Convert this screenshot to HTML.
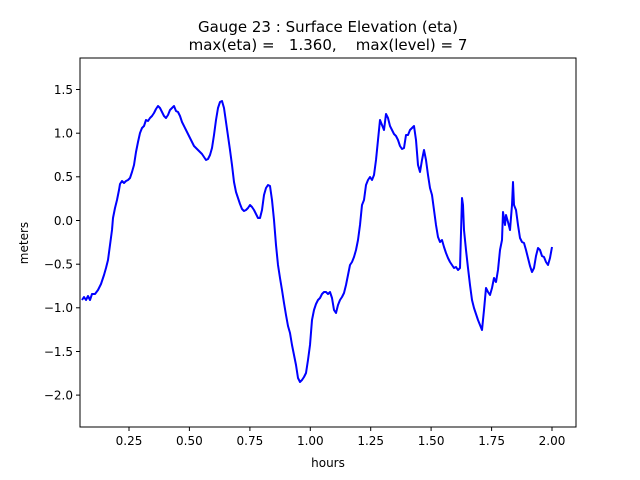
<!DOCTYPE html>
<html><head><style>body{margin:0;background:#fff}svg{display:block}text{font-family:"DejaVu Sans","Liberation Sans",sans-serif;fill:#000}</style></head><body>
<svg width="640" height="480" xmlns="http://www.w3.org/2000/svg">
<rect width="640" height="480" fill="#fff"/>
<text x="328" y="32" font-size="15" text-anchor="middle">Gauge 23 : Surface Elevation (eta)</text>
<text x="328" y="50" font-size="15" text-anchor="middle" xml:space="preserve">max(eta) =   1.360,    max(level) = 7</text>
<polyline fill="none" stroke="#0000ff" stroke-width="2" stroke-linejoin="round" points="82,300 84,297 86,300 88,296 90,300 92,294 95,294 98,290 101,284 104,275 106,268 108,260 110,245 112,230 113,218 115,208 117,200 119,190 120,184 122,181 124,183 126,181 128,180 130,178 132,172 134,165 136,152 138,142 140,133 142,128 144,126 146,120 148,121 150,118 152,116 154,113 156,109 158,106 160,108 162,112 164,116 166,118 168,115 170,110 172,108 174,106 176,111 178,112 180,116 182,122 186,130 190,138 194,146 198,150 202,154 206,160 208,159 210,155 212,148 214,135 216,120 218,108 220,102 222,101 224,108 226,122 228,136 230,150 232,165 234,182 236,192 238,198 240,204 242,209 244,211 246,210 248,208 250,205 252,207 254,210 256,214 258,218 260,218 262,210 264,195 266,188 268,185 270,186 272,200 274,220 276,245 278,265 280,278 282,290 284,303 286,315 288,326 290,333 292,345 294,355 296,365 298,378 300,382 302,380 304,377 306,373 308,360 310,345 312,320 314,310 316,304 318,300 320,298 322,294 324,292 326,292 328,294 330,292 332,298 334,310 336,313 338,305 340,300 342,297 344,293 346,285 348,275 350,265 352,262 354,257 356,250 358,240 360,225 362,205 364,200 366,185 368,180 370,177 372,180 374,175 376,160 378,140 380,120 382,125 384,130 386,114 388,118 390,126 392,130 394,134 396,136 398,140 400,146 402,149 404,148 406,135 408,135 410,130 412,128 414,126 416,140 418,165 420,172 422,160 424,150 426,160 428,175 430,188 432,195 434,210 436,225 438,237 440,242 442,240 444,247 446,253 448,258 450,262 452,265 454,268 456,267 458,270 460,268 462,198 463,205 464,230 466,250 468,268 470,285 472,300 474,308 476,314 478,320 480,325 482,330 484,310 486,288 488,292 490,295 492,288 494,278 496,282 498,270 500,250 502,240 503,212 505,225 506,215 508,222 510,230 512,205 513,182 514,205 516,210 518,225 520,238 522,242 524,243 526,250 528,258 530,266 532,272 534,268 536,256 538,248 540,250 542,256 544,257 546,262 548,265 550,258 552,247"/>
<rect x="80" y="58" width="496" height="369" fill="none" stroke="#000" stroke-width="1"/>
<g stroke="#000" stroke-width="1">
<line x1="129" y1="427" x2="129" y2="431"/><line x1="189.4" y1="427" x2="189.4" y2="431"/><line x1="249.9" y1="427" x2="249.9" y2="431"/><line x1="310.3" y1="427" x2="310.3" y2="431"/><line x1="370.7" y1="427" x2="370.7" y2="431"/><line x1="431.1" y1="427" x2="431.1" y2="431"/><line x1="491.6" y1="427" x2="491.6" y2="431"/><line x1="552" y1="427" x2="552" y2="431"/>
<line x1="76" y1="89.5" x2="80" y2="89.5"/><line x1="76" y1="133.2" x2="80" y2="133.2"/><line x1="76" y1="176.8" x2="80" y2="176.8"/><line x1="76" y1="220.5" x2="80" y2="220.5"/><line x1="76" y1="264.2" x2="80" y2="264.2"/><line x1="76" y1="307.8" x2="80" y2="307.8"/><line x1="76" y1="351.5" x2="80" y2="351.5"/><line x1="76" y1="395.1" x2="80" y2="395.1"/>
</g>
<g font-size="12" text-anchor="middle">
<text x="129" y="445">0.25</text><text x="189.4" y="445">0.50</text><text x="249.9" y="445">0.75</text><text x="310.3" y="445">1.00</text><text x="370.7" y="445">1.25</text><text x="431.1" y="445">1.50</text><text x="491.6" y="445">1.75</text><text x="552" y="445">2.00</text>
</g>
<g font-size="12" text-anchor="end">
<text x="73" y="94">1.5</text><text x="73" y="137.5">1.0</text><text x="73" y="181">0.5</text><text x="73" y="225">0.0</text><text x="73" y="268.5">−0.5</text><text x="73" y="312">−1.0</text><text x="73" y="356">−1.5</text><text x="73" y="399.5">−2.0</text>
</g>
<text x="328" y="467" font-size="12" text-anchor="middle">hours</text>
<text x="28" y="243" font-size="12" text-anchor="middle" transform="rotate(-90 28 243)">meters</text>
</svg>
</body></html>
